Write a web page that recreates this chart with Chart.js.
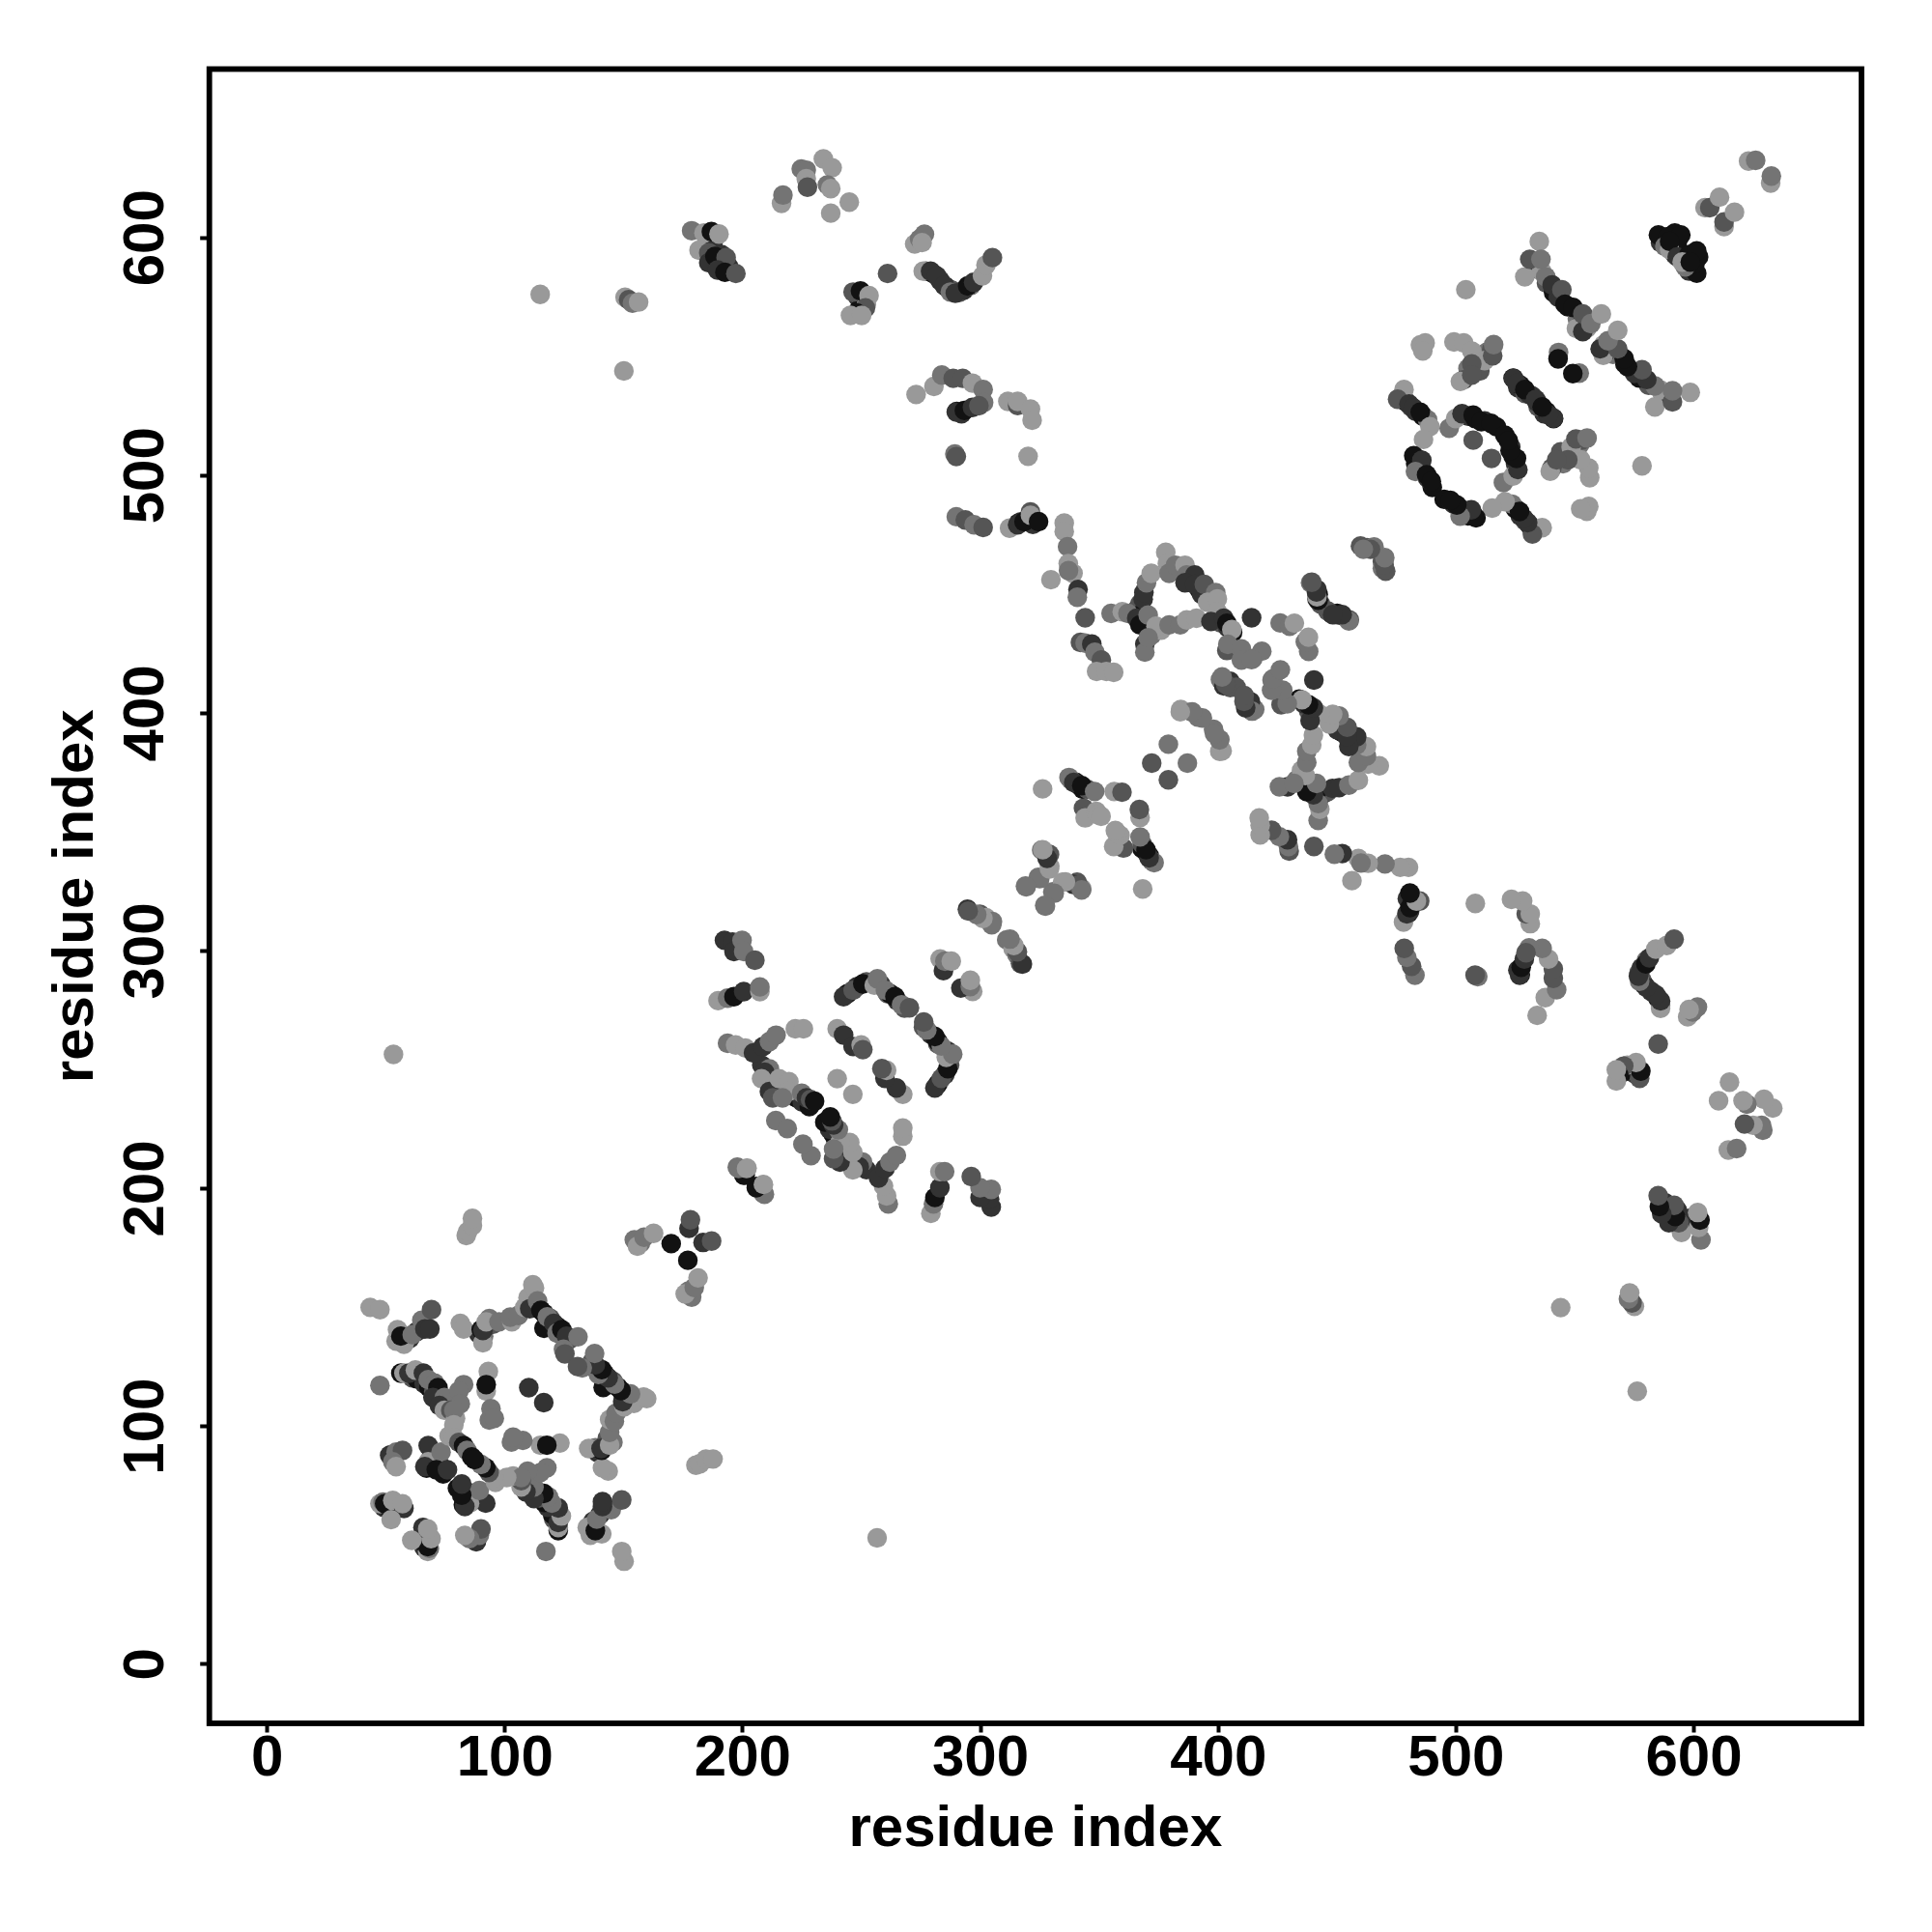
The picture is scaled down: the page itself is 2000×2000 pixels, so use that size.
<!DOCTYPE html>
<html><head><meta charset="utf-8">
<style>html,body{margin:0;padding:0;background:#fff}#w{width:2000px;height:2000px}</style>
<script src="https://cdn.jsdelivr.net/npm/chart.js@4"></script>
</head><body><div id="w"><canvas id="c" width="2000" height="2000"></canvas></div>
<script>
const axisTitle = "residue index";
const tickValues = [0,100,200,300,400,500,600];
const shades = ["#121212","#333333","#555555","#747474","#999999"];
// each contact: [residue i, residue j, shade index]; the map is symmetric, so only i<j is listed
const strandDetail = [[114,150,1],[116.5,147.5,0],[119,145.5,2],[122,142,0],[123,139,1],[127,136.5,2],[61,120.5,2],[63,120,0],[66,118,1],[68,116.5,0],[70,114.5,2],[73,110.5,0],[71,113.5,3],
[67,82.5,0],[69,87,1],[70,83,2],[72.5,84,1],[74,80,0],[53,86,1],[52,88,0],[49,66,1],[51,66,0],[54,66,3],[55,66.5,0],[60,137,1],[58,136,3],[63,140,1],[91,138,3],[89,139,1],[92,142,1],[95,143,2],
[208,252,1],[210,247,0],[212,243,2],[214,240,1],[221,239,2],[223,238,0],[225,236.5,1],[228,234.5,0],[244,282,0],[248,285,1],[252,287,2],[258,286,1],[261,282,2],[262,282,0],[265,279,1],[268,276,2],
[277,586,2],[280,585,0],[283,582,1],[286,579,0],[288,578,2],[291,577,2],[293,578,1],[296,580,3],[248.5,575,1],[250,573,3],[249,570,0],[252,572,4],[187.5,598,1],[190,590,0],[191,593,1],[186,600,1],[194,588,1],[195,586,1],
[533,589,3],[534,587,1],[536,586,4],[538,581,2],[541,577,0],[543,575,1],[547,571,0],[551,566,3],[552,563,1],[555,562,4],[524,541,0],[526,537,1],[527,538,0],[529,534.5,2],[531,534,1],[532,533.5,1],
[477,533,1],[479,531,0],[481,529,2],[483,527,1],[486,525,0],[488,523.5,3],[505,525,1],[508,524,0],[512,523,1],[517,520.5,0],[483,505,0],[484,507,1],[486,502,1],[488,499,1],[490,495,0],[489,498,1],[508,548,1],[510,544,2],[505,545,3],[513,552,3],[515,553,2],[485,555,4],
[366,444,1],[367,446,2],[368,442,0],[372,433,3],[376,435,4],[392,452,0],[393,450,1],[400,441,0],[401,438,2],[404,436,1],[406,434,0],[442,450,0],[443,446,2],
[316,480,0],[317,480.5,1],[320,481,0],[322,479.5,1],[290,527,0],[292,526,1],[340,371,0],[341,370,1],[343,368,0],[345,368,2],[338,372,3],[586,598,1],[588,597,0],[587,600,0],[592,602,0],[591,596,0],[592,593,1],[593,598,0]];
const domainA = [[43.3,150.1,4],[47.4,149.1,4],[54.8,140.7,4],[54.2,135.9,4],[57.5,134.6,4],[56.2,138,0],[61,138.6,3],[65,144.7,3],[69.1,149.1,2],[66.3,141,1],[68.4,141,1],
[81.2,143.4,4],[82.6,141,4],[90,140.7,0],[90.7,135.2,4],[90.7,140.4,1],[93.4,145.4,3],[92.1,144,4],[97.5,144,3],[102.9,144,4],[102.2,146,3],[105.6,146.7,3],[108.3,150.1,4],[109.7,154.2,4],[111.7,159.6,4],[112.4,158.3,4],
[110.4,149.5,1],[113.7,152.8,3],[115.1,148.8,0],[116.4,141.3,0],[117.8,146.1,3],[120.5,143.4,1],[121.9,139.3,3],[123.9,140.7,0],[125.9,138,1],[130.7,137.7,3],[124.6,132.5,3],[125.2,130.5,2],
[56.2,122.4,0],[57.5,122.4,4],[59.6,122.4,1],[62.3,123.7,4],[65.7,122.4,1],[67.7,119.7,3],[70.4,118.3,3],[71.8,116.3,0],[69.7,112.2,1],[74.5,112.2,3],[72.4,108.8,1],[74.5,106.8,4],[47.4,117.2,3],
[82.6,117.6,3],[80.6,114.9,3],[81.2,109.5,3],[77.2,106.8,2],[79.2,103.4,4],[78.5,106.8,3],[92.1,114.9,4],[93,123.1,4],[92.1,117.6,0],[94.1,107.5,3],[93.4,102.7,3],[95.5,103.4,3],[110,116.3,1],
[51.5,87.9,1],[54.2,89.2,3],[56.9,89.9,2],[52.8,85.1,3],[54.2,83.1,4],[67.7,91.9,1],[67.7,85.1,4],[66.3,83.1,1],[73.1,89.2,3],[71.1,81.8,0],[75.8,81.8,1],[76.5,96,4],[78.5,100.7,4],[78.5,95.3,4],[80.6,93.3,2],[82.6,91.9,0],[84,89.9,3],[86,87.2,0],
[47.4,67.5,4],[48.7,68.2,3],[49.4,67.5,0],[52.8,68.9,4],[57.5,65.5,1],[56.9,67.5,4],[52.1,60.8,4]];
const linkAB = [[83.7,180.3,4],[84.3,182,4],[86.3,184.5,4],[86.3,187.5,4],[53.1,256.5,4],
[154.4,178.5,3],[157,177.2,3],[155.7,175.8,4],[158.5,179.6,3],[162.5,181.2,4],[169.9,176.9,0],[177.4,183.3,1],[178,186.9,2]];
const domainB = [[192.3,304.5,1],[195.7,303.8,1],[196.3,299.8,1],[199.7,304.5,3],[200.4,299.8,3],[205.1,296.1,2],
[189.6,279.1,4],[193.6,280.2,3],[196.3,280.8,0],[200.4,282.9,1],[207.2,282.9,4],[207.2,284.9,3],
[193.6,261.2,3],[197,260.5,4],[201.1,259.2,4],[204.5,257.1,1],[208.5,259.8,1],[211.2,261.9,3],[214,264.6,3],[222.1,267.3,4],[225.5,267.3,4],
[239.7,267.3,4],[242.4,264.6,1],[246.4,259.8,1],[249.8,260.5,4],[250.5,258.5,2],
[242.4,280.8,1],[246.4,283.5,2],[250.5,286.2,0],[255.3,285.6,4],[256.6,288.3,3],[260,283.5,3],[264,280.8,0],[266.8,277.4,3],[270.1,276.1,2],
[213.9,228.7,3],[218.7,225.3,3],[211.2,250.4,3],[209.2,249,1],[207.9,246.3,4],[211.2,240.9,1],[212.6,238.2,2],[215.3,246.3,4],[219.4,245,4],[219.4,240.9,4],[216.7,238.2,3],[224.8,240.2,3],[226.8,238.2,1],[228.5,237.5,2],[230.2,236.8,0],[239.7,246.3,4],
[197.7,209.1,3],[200.4,205.7,0],[201.8,208.7,4],[205.8,201,0],[208.5,198.2,3],[208.5,201.6,4],
[283,296.7,4],[284.4,291.7,1],[285,295.7,3],[287.7,295.7,4]];
const linkBC = [[294.5,317.6,1],[299.7,315.5,2],[302.3,314,4],[305,312.4,3],[311,304.7,3],[313.7,301,4],[315.3,298.4,3],[316.8,294.8,2],
[327.7,341.1,2],[325.7,342.5,3],[329.1,335.7,4],[324.3,331,3],[318.9,327.3,3],[330.4,324.9,3],[334.5,329,4],[327,319.2,3],[340.6,329,2],[339,328,1],[342.6,326.2,4],
[326.1,368.2,4],[337.2,373,3],[339.2,370.9,1],[342.6,369.6,0],[348,367.1,3],[343.3,360.1,2],[344,356,4],[348.7,358.7,4],[349.4,357.4,4],[350.7,356.7,4],[356.2,367.1,4],[359.5,366.8,2],
[372,379,2],[379,387,3],[384.2,401.6,4],[388.8,400.5,3],[391.4,398.4,3],[398,393.3,3],[400.6,389,3],[400.6,384,4],
[404.9,413.5,1],[400.9,414.2,3],[402.3,411.5,1],[405,410.8,2],[407.5,410.9,2],[412.2,403.1,2],[415.3,401.6,3]];
const domainC = [[335.2,480,4],[335.2,476.5,4],[336.6,470.1,3],[336.9,463,4],[329.6,456.2,4],[338.9,458.9,4],[337,460,3],[341,452.1,1],[340.7,448.8,3],[344,440.2,2],
[342,429.8,2],[344,429.5,3],[346.8,429.1,1],[348.1,425.7,3],[350.8,422.4,2],[348.8,417.6,4],[352.9,417.6,4],[356,417.2,4],
[354.9,442,3],[359.6,442.7,4],[362,442,3],[368.4,448,1],[368.7,450.8,1],[369.8,454.9,3],[371.8,458.9,4],[365.7,440,1],[367,437.2,0],[370.5,441.3,3],[373.8,436.6,4],[369.1,429.1,1],[369.1,425.7,3],[370.5,431.8,3],[379.3,437.2,3],[384,437.2,3],[386.7,439.3,4],[390.8,440,4],
[377.9,467.7,4],[378.6,463,4],[379.3,458.9,3],[382,462.3,3],[386,462.3,4],[386.7,458.2,3],[390.1,458.2,1],[386,454.9,1],[390.1,454.2,1],[394.1,454.2,2],[398.9,450.8,3],[395.5,446.7,4],[399.6,448.1,4],[399.6,442.7,4],[396.9,438.6,1],[402.3,440,1],[403.6,437.9,0],[405.7,435.2,4],
[403.6,426.4,2],[404,429,3],[409.7,427.1,3],[409.7,422.4,3],[414.5,423,3],[418.3,426.1,3],[414,440.2,1],[426,438,3],[430,436.6,3],[432,437.9,4],[422.6,414,3],
[438.8,454.9,3],[441.5,452.1,1],[441.5,448.1,1],[447.6,442,0],[449,441.5,4],[451,441.3,1],[455.1,439.3,2],[459.8,470.4,2],[462.5,469.7,2],[465.5,470,3],[469,464,2],[469,461,3]];
const linkCD = [[272.9,534.1,4],[280.4,537.5,4],[283.7,542.3,3],[288.5,540.9,2],[292.5,540.9,2],[296.6,538.9,4],[301.1,536.2,3],[301.3,530.7,3],[289.8,526.7,1],[293.2,527.4,0],[296.6,528.7,1],[299.3,529.4,2],
[311.5,531.2,4],[315.6,529.5,2],[315.6,531.2,4],[321,528,4],[321.7,523.3,4],[320,508.1,4],[289.2,509.1,3],[289.8,508,2],[289.8,482.7,3],[293.6,481.3,2],[297.3,479.3,3],[301.1,478.2,2],
[312.2,477.9,4],[315.6,479.3,1],[318.3,480.6,0],[321,484.7,2],[321,483.3,4],[324.4,480.6,0]];
const domainDLong = [[178.5,603,3],[183.7,602,4],[186.8,602.6,0],[190,601.6,4],[181.6,594.8,4],[185.7,593.7,2],[185.7,589.5,1],[188.3,592.2,0],[193,591.7,2],[189.4,586.5,1],[192.5,585.5,0],[197.1,585,2],
[114.8,576.2,4],[150,544,4],[150.5,575,4],[152,574,2],[153.6,572.5,3],[156.2,573,4],
[216.3,614.5,4],[216.9,618,3],[224.6,629,3],[226.7,628.5,3],[226.7,624.9,4],[227.2,621.3,2],[233.9,633.2,4],[237.6,629.5,4],[235.6,622.3,3],[237,620.7,4],[244.8,615,4],[237,610.4,4],
[246.4,577.2,2],[249.5,577.7,0],[253.1,575.7,4],[251.6,570.5,2],[247.9,568.4,0],[245.3,567.4,4],[250,567.4,4],[260.9,585,2],
[272.3,597.4,4],[274.4,599.5,3],[276.4,601.5,3],[275.4,598,4],[275.9,586,4],[279,586,1],[281.6,584,1],[284.7,580,1],[287.3,577.2,3],[289.4,576.7,1],[294.6,579.8,0],[297.1,581.3,1],[300.8,584,4],[302.3,588.6,4],[305,591.7,2]];
const domainE = [[535,598.5,4],[528.9,583.6,4],[531,591,2],[535.7,591,3],[537.7,583.6,3],[540.4,580.2,1],[544.5,578.2,2],[545.8,572.1,0],[549.2,570.7,0],[550.6,561.9,4],[553.3,560.6,1],[553.3,568,2],[556.7,563.9,3],[561.1,568,4],
[504.1,578.2,4],[543.1,551.8,3],[542.9,549.1,0],[487,555.8,4],[486,552.4,4],[499.1,556.2,4],[503.2,555.8,4],[506.6,552.4,4],[512,548.4,4],[515.4,550.4,2],[515.8,555.1,3],[506.6,547,2],[503.2,540.3,2],[501.8,539.6,4],[506.6,542.3,2],
[524.2,540.9,1],[525.5,538.9,1],[528.9,536.2,0],[478.1,536.2,4],[475.4,532.1,2],[480.2,530.1,1],[482,528.5,1],[484.9,526.7,0],[489,520.6,4],[486.3,515.2,4],
[497.1,519.9,3],[499.8,524,4],[502.5,526,1],[507.2,525.4,0],[510.6,522.7,0],[514.7,522,0],[507.2,514.9,2],[482.2,508.4,0],[485.6,506.4,1],[482.9,501.7,3],[487.6,500.3,0],[489.6,497.6,0]];
const domainF = [[585.1,601.2,0],[589.1,600.5,0],[594.5,601.2,0],[587.8,596.4,3],[589.8,595.1,4],[589.8,598.5,0],[604.7,612.7,4],[606.7,612.7,2],[610.8,617.1,4],[623,632.3,4],[626,632.6,3]];

const upper = [...strandDetail,...domainA,...linkAB,...domainB,...linkBC,...domainC,...linkCD,...domainDLong,...domainE,...domainF];
const points = [...upper.map(p=>({x:p[0],y:p[1]})),...upper.map(p=>({x:p[1],y:p[0]}))];
const colors = [...upper.map(p=>shades[p[2]]),...upper.map(p=>shades[p[2]])];

const frame = {id:'frame',afterDraw(ch){const a=ch.chartArea,c=ch.ctx;c.save();c.strokeStyle='#000';c.lineWidth=5.8;c.lineJoin='miter';c.strokeRect(a.left,a.top,a.right-a.left,a.bottom-a.top);c.restore();}};
const font = {family:'"Liberation Sans"',size:60,weight:'bold'};
const setTicks = s => { s.ticks = tickValues.map(v=>({value:v})); };
new Chart(document.getElementById('c'),{
 type:'scatter',
 plugins:[frame],
 data:{datasets:[{data:points,pointBackgroundColor:colors,pointBorderWidth:0,pointRadius:10.2,showLine:false}]},
 options:{responsive:false,animation:false,devicePixelRatio:1,
  layout:{padding:{top:71.5,right:73,left:0,bottom:0}},
  plugins:{legend:{display:false},tooltip:{enabled:false}},
  scales:{
   x:{type:'linear',min:-24.35,max:670.5,afterBuildTicks:setTicks,afterFit(s){s.height=216;},
      grid:{drawOnChartArea:false,tickLength:9.5,tickWidth:4,tickColor:'#000'},border:{display:false},
      ticks:{autoSkip:false,maxRotation:0,color:'#000',font,padding:-8,callback:v=>String(v)},
      title:{display:true,text:axisTitle,color:'#000',font,padding:{top:0,bottom:70}}},
   y:{type:'linear',min:-24.9,max:671,afterBuildTicks:setTicks,afterFit(s){s.width=216.7;},
      grid:{drawOnChartArea:false,tickLength:9.5,tickWidth:4,tickColor:'#000'},border:{display:false},
      ticks:{autoSkip:false,minRotation:90,maxRotation:90,crossAlign:'center',color:'#000',font,padding:5,callback:v=>String(v)},
      title:{display:true,text:axisTitle,color:'#000',font,padding:{top:43,bottom:0}}}
  }}
});
</script></body></html>
